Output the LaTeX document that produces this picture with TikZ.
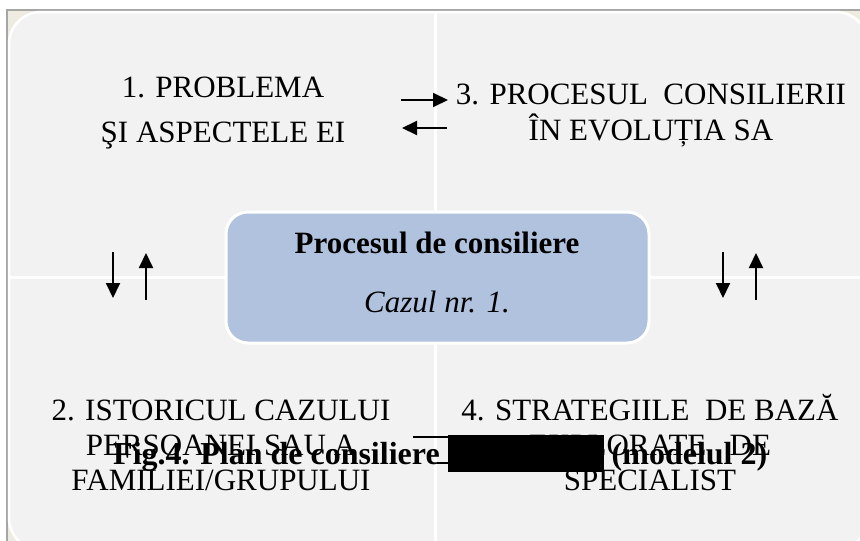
\documentclass[tikz,border=0pt]{standalone}
\usepackage{fontspec}
\setmainfont{Liberation Serif}
\usetikzlibrary{arrows.meta, positioning}
\definecolor{framebg}{RGB}{238,236,225}
\definecolor{framegray}{RGB}{166,166,166}
\definecolor{quadfill}{RGB}{242,242,242}
\definecolor{corefill}{RGB}{176,194,222}
\begin{document}
\begin{tikzpicture}[
			x=1pt, y=-1pt,
			quad/.style={align=center, inner sep=0pt, anchor=base, font=\fontsize{31}{35}\selectfont},
			core/.style={rectangle, rounded corners=22pt, fill=corefill, draw=white, line width=3pt, minimum width=423pt, minimum height=131pt},
			coretext/.style={inner sep=0pt, anchor=base, font=\fontsize{31}{36}\selectfont},
			arr/.style={-{Triangle[length=15pt,width=14pt]}, line width=2pt}
			]
			\useasboundingbox (0,0) rectangle (860,541);
			\clip (0,0) rectangle (860,541);
			% frame and quadrants
			\draw[framegray, line width=1.5pt, fill=framebg] (7,10) rectangle (890,570);
			\draw[white, line width=2.5pt, fill=quadfill, rounded corners=32pt] (9,12) rectangle (868,550);
			\draw[white, line width=3pt] (435,12) -- (435,550);
			\draw[white, line width=3pt] (9,277) -- (868,277);
			% centre
			\node[core] (core) at (437.5,277.5) {};
			\node[coretext] (title) at (437,253) {\textbf{Procesul de consiliere}};
			\node[coretext] (case) at (437,312) {\textit{Cazul nr. 1.}};
			% quadrant texts (anchored at the last line)
			\node[quad, font=\fontsize{31}{45}\selectfont] (q1) at (223,142) {1. PROBLEMA\\ŞI ASPECTELE EI};
			\node[quad, font=\fontsize{31}{36}\selectfont] (q3) at (651,140) {3. PROCESUL\ \ CONSILIERII\\ÎN EVOLUȚIA SA};
			\node[quad] (q2) at (221,490) {2. ISTORICUL CAZULUI\\PERSOANEI SAU A\\FAMILIEI/GRUPULUI};
			\node[quad] (q4) at (650,490) {4. STRATEGIILE\ \ DE BAZĂ\\EXPLORATE\ \ \ DE\\SPECIALIST};
			% arrows
			\coordinate (t1s) at (401,100);
			\coordinate (t1e) at (448,100);
			\coordinate (t2s) at (447,128);
			\coordinate (t2e) at (402,128);
			\coordinate (l1s) at (113,252);
			\coordinate (l1e) at (113,298);
			\coordinate (l2s) at (146,300);
			\coordinate (l2e) at (146,253);
			\coordinate (r1s) at (723,252);
			\coordinate (r1e) at (723,298);
			\coordinate (r2s) at (756,300);
			\coordinate (r2e) at (756,253);
			\draw[arr] (t1s) -- (t1e);
			\draw[arr] (t2s) -- (t2e);
			\draw[arr] (l1s) -- (l1e);
			\draw[arr] (l2s) -- (l2e);
			\draw[arr] (r1s) -- (r1e);
			\draw[arr] (r2s) -- (r2e);
			% caption
			\coordinate (c1s) at (413,437);
			\coordinate (c1e) at (450,437);
			\coordinate (c2s) at (437,463);
			\coordinate (c2e) at (450,463);
			\draw[line width=1.2pt] (c1s) -- (c1e);
			\draw[line width=1.2pt] (c2s) -- (c2e);
			\node[inner sep=0pt, anchor=base west, font=\fontsize{32}{36}\selectfont\bfseries] (caption) at (113,464) {Fig.4. Plan de consiliere \rule[-8pt]{156pt}{37pt} (modelul 2)};
		\end{tikzpicture}
\end{document}
